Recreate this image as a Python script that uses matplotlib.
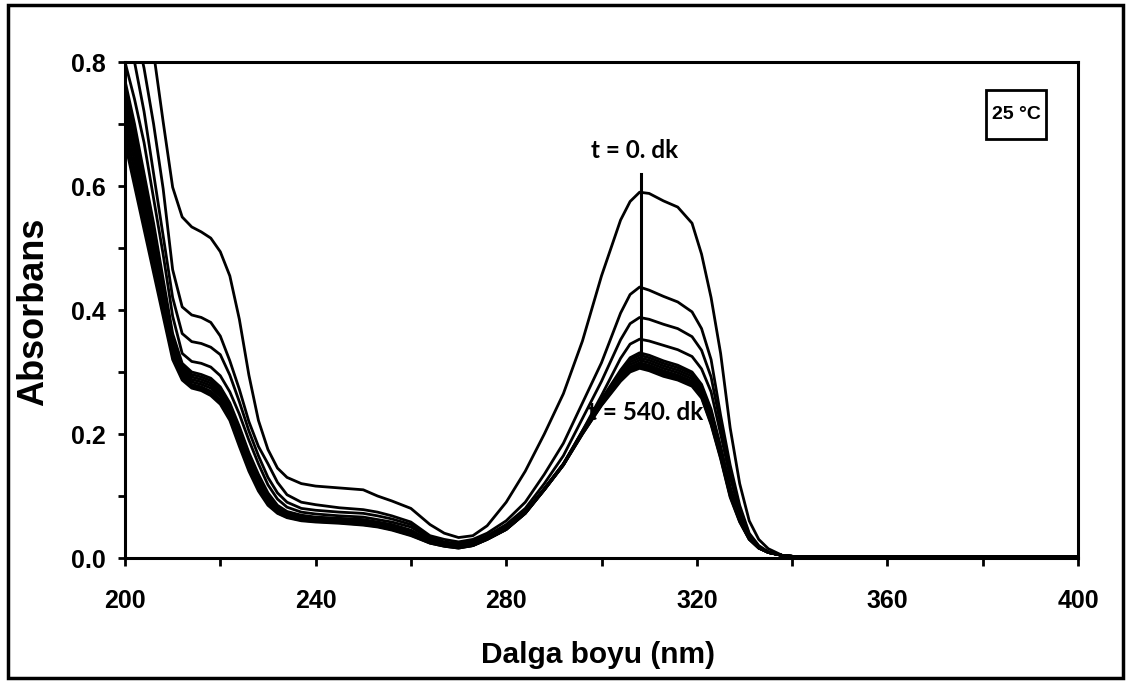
import matplotlib
matplotlib.use("Agg")
import matplotlib.pyplot as plt
from matplotlib.patches import Rectangle
from matplotlib.ticker import MultipleLocator

# Wavelength grid (nm)
wavelength = [200, 202, 204, 206, 208, 210, 212, 214, 216, 218, 220, 222, 224, 226, 228, 230,
              232, 234, 237, 240, 245, 250, 253, 256, 260, 264, 267, 270, 273, 276, 280, 284,
              288, 292, 296, 300, 304, 306, 308, 310, 313, 316, 319, 321, 323, 325, 327, 329,
              331, 333, 335, 338, 341, 345, 350, 360, 380, 400]

# common flat tail (338 ... 400 nm)
tail = [0.004, 0.002, 0.002, 0.002, 0.002, 0.002, 0.002]

abs_t0 = [1.10, 1.00, 0.90, 0.815, 0.704, 0.598, 0.550, 0.534, 0.526, 0.516, 0.494, 0.455, 0.385, 0.295, 0.222, 0.175,
          0.145, 0.130, 0.120, 0.116, 0.113, 0.110, 0.100, 0.092, 0.080, 0.054, 0.040, 0.033, 0.036, 0.052, 0.090, 0.140,
          0.200, 0.265, 0.350, 0.455, 0.545, 0.575, 0.590, 0.588, 0.576, 0.566, 0.540, 0.490, 0.420, 0.330, 0.210, 0.120,
          0.060, 0.030, 0.015] + tail
abs_t1 = [0.92, 0.86, 0.79, 0.70, 0.596, 0.465, 0.405, 0.392, 0.388, 0.380, 0.358, 0.318, 0.272, 0.220, 0.180, 0.152,
          0.122, 0.102, 0.090, 0.086, 0.081, 0.078, 0.074, 0.068, 0.058, 0.036, 0.030, 0.026, 0.030, 0.040, 0.060, 0.090,
          0.135, 0.185, 0.250, 0.315, 0.395, 0.425, 0.437, 0.432, 0.422, 0.413, 0.397, 0.370, 0.320, 0.230, 0.150, 0.085,
          0.040, 0.020, 0.010] + tail
abs_t2 = [0.86, 0.80, 0.72, 0.62, 0.52, 0.42, 0.362, 0.349, 0.346, 0.340, 0.328, 0.295, 0.252, 0.205, 0.165, 0.130,
          0.105, 0.090, 0.080, 0.077, 0.074, 0.072, 0.068, 0.063, 0.054, 0.034, 0.026, 0.023, 0.027, 0.036, 0.054, 0.080,
          0.120, 0.165, 0.225, 0.285, 0.352, 0.378, 0.388, 0.385, 0.377, 0.370, 0.357, 0.335, 0.292, 0.215, 0.140, 0.080,
          0.038, 0.019, 0.009] + tail
abs_t3 = [0.80, 0.74, 0.67, 0.58, 0.49, 0.39, 0.330, 0.317, 0.314, 0.308, 0.294, 0.268, 0.232, 0.190, 0.152, 0.118,
          0.095, 0.082, 0.074, 0.071, 0.068, 0.066, 0.062, 0.058, 0.050, 0.031, 0.024, 0.021, 0.024, 0.033, 0.050, 0.075,
          0.110, 0.150, 0.205, 0.262, 0.322, 0.345, 0.353, 0.350, 0.343, 0.336, 0.325, 0.305, 0.268, 0.200, 0.130, 0.075,
          0.036, 0.018, 0.009] + tail
abs_t4 = [0.77, 0.70, 0.62, 0.54, 0.45, 0.362, 0.314, 0.300, 0.296, 0.290, 0.276, 0.250, 0.212, 0.170, 0.135, 0.105,
          0.085, 0.075, 0.069, 0.066, 0.064, 0.062, 0.058, 0.054, 0.045, 0.028, 0.022, 0.019, 0.022, 0.032, 0.048, 0.074,
          0.112, 0.152, 0.205, 0.256, 0.303, 0.323, 0.331, 0.327, 0.318, 0.311, 0.300, 0.280, 0.240, 0.180, 0.115, 0.066,
          0.033, 0.017, 0.009] + tail
abs_t5 = [0.755, 0.685, 0.607, 0.529, 0.441, 0.356, 0.310, 0.296, 0.292, 0.286, 0.272, 0.246, 0.207, 0.166, 0.131, 0.102,
          0.083, 0.074, 0.068, 0.065, 0.063, 0.061, 0.057, 0.053, 0.044, 0.027, 0.022, 0.019, 0.022, 0.032, 0.048, 0.074,
          0.112, 0.152, 0.204, 0.254, 0.300, 0.320, 0.327, 0.323, 0.314, 0.307, 0.297, 0.277, 0.236, 0.177, 0.112, 0.065,
          0.033, 0.017, 0.009] + tail
abs_t6 = [0.74, 0.67, 0.594, 0.517, 0.432, 0.350, 0.306, 0.292, 0.288, 0.282, 0.268, 0.242, 0.202, 0.161, 0.127, 0.099,
          0.081, 0.072, 0.066, 0.063, 0.061, 0.059, 0.055, 0.051, 0.042, 0.026, 0.021, 0.018, 0.021, 0.031, 0.047, 0.073,
          0.111, 0.151, 0.203, 0.252, 0.297, 0.316, 0.323, 0.319, 0.310, 0.303, 0.293, 0.273, 0.232, 0.174, 0.110, 0.063,
          0.032, 0.017, 0.009] + tail
abs_t7 = [0.725, 0.655, 0.581, 0.506, 0.424, 0.344, 0.302, 0.288, 0.284, 0.278, 0.264, 0.238, 0.197, 0.157, 0.123, 0.096,
          0.079, 0.070, 0.064, 0.062, 0.060, 0.058, 0.054, 0.050, 0.041, 0.026, 0.021, 0.018, 0.021, 0.031, 0.047, 0.073,
          0.111, 0.151, 0.202, 0.251, 0.294, 0.312, 0.319, 0.315, 0.306, 0.299, 0.289, 0.269, 0.228, 0.170, 0.107, 0.062,
          0.032, 0.017, 0.009] + tail
abs_t8 = [0.71, 0.64, 0.568, 0.494, 0.416, 0.338, 0.298, 0.284, 0.280, 0.274, 0.260, 0.234, 0.193, 0.153, 0.119, 0.093,
          0.077, 0.069, 0.063, 0.061, 0.059, 0.057, 0.053, 0.049, 0.040, 0.025, 0.020, 0.017, 0.021, 0.031, 0.047, 0.073,
          0.111, 0.151, 0.202, 0.250, 0.292, 0.308, 0.315, 0.311, 0.302, 0.295, 0.285, 0.265, 0.224, 0.167, 0.104, 0.061,
          0.031, 0.016, 0.009] + tail
abs_t9 = [0.695, 0.625, 0.555, 0.482, 0.408, 0.332, 0.294, 0.280, 0.276, 0.269, 0.255, 0.230, 0.189, 0.149, 0.116, 0.090,
          0.075, 0.067, 0.062, 0.060, 0.058, 0.055, 0.052, 0.047, 0.038, 0.025, 0.020, 0.017, 0.020, 0.030, 0.046, 0.072,
          0.110, 0.150, 0.201, 0.248, 0.290, 0.305, 0.312, 0.308, 0.299, 0.292, 0.282, 0.262, 0.220, 0.164, 0.102, 0.060,
          0.031, 0.016, 0.009] + tail
abs_t10 = [0.68, 0.61, 0.542, 0.47, 0.398, 0.326, 0.290, 0.277, 0.273, 0.265, 0.251, 0.226, 0.184, 0.144, 0.112, 0.088,
           0.073, 0.066, 0.061, 0.059, 0.057, 0.054, 0.051, 0.046, 0.037, 0.024, 0.019, 0.016, 0.020, 0.030, 0.046, 0.072,
           0.110, 0.150, 0.200, 0.247, 0.287, 0.302, 0.309, 0.305, 0.296, 0.289, 0.279, 0.260, 0.217, 0.162, 0.100, 0.059,
           0.030, 0.016, 0.009] + tail
abs_t11 = [0.67, 0.60, 0.53, 0.46, 0.39, 0.320, 0.287, 0.274, 0.270, 0.262, 0.248, 0.222, 0.180, 0.140, 0.108, 0.085,
           0.072, 0.065, 0.060, 0.058, 0.056, 0.053, 0.050, 0.045, 0.036, 0.024, 0.019, 0.016, 0.020, 0.030, 0.046, 0.072,
           0.110, 0.150, 0.200, 0.246, 0.285, 0.300, 0.306, 0.302, 0.293, 0.287, 0.277, 0.258, 0.215, 0.160, 0.098, 0.058,
           0.030, 0.016, 0.009] + tail

spectra = [abs_t0, abs_t1, abs_t2, abs_t3, abs_t4, abs_t5, abs_t6, abs_t7, abs_t8, abs_t9, abs_t10, abs_t11]

x_ticks = [200, 240, 280, 320, 360, 400]
y_ticks = [0.0, 0.2, 0.4, 0.6, 0.8]
y_ticklabels = ["0.0", "0.2", "0.4", "0.6", "0.8"]

marker_wl = 308.2
marker_range = [0.32, 0.62]

W, H = 1127, 681
fig = plt.figure(figsize=(W / 100, H / 100), dpi=100)
ax = fig.add_axes([125 / W, 1 - 558 / H, (1078 - 125) / W, (558 - 62) / H])

for s in spectra:
    ax.plot(wavelength, s, color="black", lw=2.0, zorder=3,
            solid_joinstyle="round", solid_capstyle="round")

ax.plot([marker_wl, marker_wl], marker_range, color="black", lw=2.2, zorder=4)

ax.set_xlim(200, 400)
ax.set_ylim(0, 0.8)
ax.set_xticks(x_ticks)
ax.xaxis.set_minor_locator(MultipleLocator(20))
ax.set_yticks(y_ticks)
ax.set_yticklabels(y_ticklabels)
ax.yaxis.set_minor_locator(MultipleLocator(0.1))

for sp in ax.spines.values():
    sp.set_linewidth(2.2)

ax.tick_params(axis="x", which="both", direction="out", length=6, width=2, pad=16)
ax.tick_params(axis="y", which="both", direction="out", length=5, width=2, pad=9)
for lab in ax.get_xticklabels():
    lab.set_fontfamily("Liberation Sans")
    lab.set_fontweight("bold")
    lab.set_fontsize(18)
for lab in ax.get_yticklabels():
    lab.set_fontfamily("Liberation Sans")
    lab.set_fontweight("bold")
    lab.set_fontsize(18)

fig.text(598 / W, 1 - 655 / H, "Dalga boyu (nm)", ha="center", va="center",
         fontfamily="Liberation Sans", fontweight="bold", fontsize=21.5)
fig.text(34 / W, 1 - 312 / H, "Absorbans", ha="center", va="center", rotation=90,
         fontfamily="Liberation Sans", fontweight="bold", fontsize=26)

ax.text(307.0, 0.638, "t = 0. dk", ha="center", va="bottom", fontfamily="Lato",
        fontweight="bold", fontsize=17.5, zorder=5)
ax.text(309.3, 0.235, "t = 540. dk", ha="center", va="center", fontfamily="Lato",
        fontweight="bold", fontsize=17.5, zorder=2)

# "25 °C" box
ax.add_patch(Rectangle((0.9035, 0.8445), 0.063, 0.099, transform=ax.transAxes,
                       fill=True, fc="white", ec="black", lw=2, zorder=5))
ax.text(0.935, 0.894, "25 °C", transform=ax.transAxes, ha="center", va="center",
        fontfamily="Liberation Sans", fontweight="bold", fontsize=14, zorder=6)

fig.patches.append(Rectangle((8 / W, 1 - 678 / H), (1123 - 8) / W, (678 - 5) / H,
                             transform=fig.transFigure, fill=False, ec="black", lw=2.5))

fig.savefig("out.png", dpi=100)
